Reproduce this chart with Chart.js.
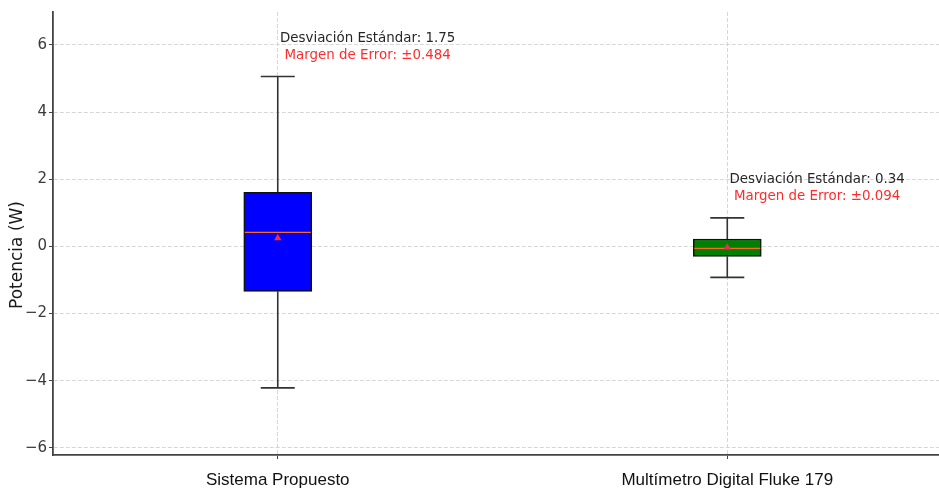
<!DOCTYPE html>
<html>
<head>
<meta charset="utf-8">
<script src="https://cdn.jsdelivr.net/npm/chart.js@4.4.1/dist/chart.umd.min.js"></script>
<style>
  html, body { margin: 0; padding: 0; background: #ffffff; overflow: hidden; }
  #wrap { width: 939px; height: 492px; position: relative; background: #ffffff; }
</style>
</head>
<body>
<div id="wrap"><canvas id="c" width="939" height="492"></canvas></div>
<script>
// Power readings summary per measuring device
const categories   = ['Sistema Propuesto', 'Multímetro Digital Fluke 179'];
const whiskerLow   = [-4.21, -0.92];
const quartile1    = [-1.34, -0.30];
const medians      = [0.42, -0.06];
const quartile3    = [1.61, 0.22];
const whiskerHigh  = [5.06, 0.85];
const means        = [0.25, -0.03];
const stdDevs      = ['1.75', '0.34'];
const errorMargins = ['0.484', '0.094'];
const boxColors    = ['#0000ff', '#008000'];
const yTicks       = [-6, -4, -2, 0, 2, 4, 6];

const BOX_PX = 68;
const CAP_PX = 34;

// Whiskers, caps, medians, annotations and the axis title
const boxPlotExtras = {
  id: 'boxPlotExtras',
  beforeDatasetsDraw(chart) {
    const { ctx, scales: { x, y } } = chart;
    ctx.save();
    ctx.strokeStyle = '#333333';
    ctx.lineWidth = 1.6;
    categories.forEach((_, i) => {
      const px = x.getPixelForValue(i + 1);
      const lo = y.getPixelForValue(whiskerLow[i]);
      const hi = y.getPixelForValue(whiskerHigh[i]);
      const q1 = y.getPixelForValue(quartile1[i]);
      const q3 = y.getPixelForValue(quartile3[i]);
      ctx.beginPath();
      ctx.moveTo(px, q3); ctx.lineTo(px, hi);
      ctx.moveTo(px, q1); ctx.lineTo(px, lo);
      ctx.moveTo(px - CAP_PX / 2, hi); ctx.lineTo(px + CAP_PX / 2, hi);
      ctx.moveTo(px - CAP_PX / 2, lo); ctx.lineTo(px + CAP_PX / 2, lo);
      ctx.stroke();
    });
    ctx.restore();
  },
  afterDatasetDraw(chart, args) {
    if (args.index !== 0) return;
    const { ctx, scales: { x, y } } = chart;
    ctx.save();
    ctx.strokeStyle = '#ff6a1a';
    ctx.lineWidth = 1.3;
    categories.forEach((_, i) => {
      const px = x.getPixelForValue(i + 1);
      const py = y.getPixelForValue(medians[i]);
      ctx.beginPath();
      ctx.moveTo(px - BOX_PX / 2 + 1, py);
      ctx.lineTo(px + BOX_PX / 2 - 1, py);
      ctx.stroke();
    });
    ctx.restore();
  },
  afterDraw(chart) {
    const { ctx, scales: { x, y } } = chart;
    ctx.save();
    ctx.textAlign = 'center';
    ctx.textBaseline = 'middle';
    ctx.font = '13.4px "DejaVu Sans"';
    categories.forEach((_, i) => {
      const px = x.getPixelForValue(i + 1 + 0.2);
      ctx.fillStyle = '#262626';
      ctx.fillText('Desviación Estándar: ' + stdDevs[i], px, y.getPixelForValue(whiskerHigh[i] + 1.13));
      ctx.fillStyle = '#ff2b2b';
      ctx.fillText('Margen de Error: ±' + errorMargins[i], px, y.getPixelForValue(whiskerHigh[i] + 0.63));
    });
    // y axis title
    ctx.translate(18, 255);
    ctx.rotate(-Math.PI / 2);
    ctx.fillStyle = '#1a1a1a';
    ctx.font = '17px "DejaVu Sans"';
    ctx.fillText('Potencia (W)', 0, 0);
    ctx.restore();
  }
};

new Chart(document.getElementById('c'), {
  type: 'bar',
  data: {
    datasets: [
      {
        type: 'bar',
        data: categories.map((_, i) => ({ x: i + 1, y: [quartile1[i], quartile3[i]] })),
        backgroundColor: boxColors,
        borderColor: '#111111',
        borderWidth: 1.5,
        borderSkipped: false,
        barThickness: BOX_PX,
        order: 2
      },
      {
        type: 'scatter',
        data: categories.map((_, i) => ({ x: i + 1, y: means[i] })),
        pointStyle: 'triangle',
        radius: 4.3,
        backgroundColor: '#f02a4c',
        borderColor: '#f02a4c',
        borderWidth: 0,
        order: 1
      }
    ]
  },
  options: {
    responsive: false,
    animation: false,
    devicePixelRatio: 1,
    layout: { autoPadding: false, padding: { top: 12, right: 0, bottom: 0, left: 0 } },
    plugins: { legend: { display: false }, tooltip: { enabled: false } },
    scales: {
      x: {
        type: 'linear',
        offset: false,
        min: 0.5,
        max: 2.471,
        afterBuildTicks: (s) => { s.ticks = categories.map((_, i) => ({ value: i + 1 })); },
        afterFit: (s) => { s.height = 37; s.paddingLeft = 0; s.paddingRight = 0; },
        ticks: {
          callback: (v) => categories[v - 1] || '',
          font: { family: 'Liberation Sans', size: 17 },
          color: '#111111',
          padding: 11,
          maxRotation: 0,
          autoSkip: false
        },
        grid: { offset: false, color: '#d2d2d2', lineWidth: 0.9, tickLength: 4, tickColor: '#444444', tickWidth: 1 },
        border: { display: true, color: '#444444', width: 1.8, dash: [4, 2] }
      },
      y: {
        type: 'linear',
        min: -6.21,
        max: 6.98,
        afterBuildTicks: (s) => { s.ticks = yTicks.map(v => ({ value: v })); },
        afterFit: (s) => { s.width = 53; s.paddingTop = 0; s.paddingBottom = 0; },
        ticks: {
          callback: (v) => (v < 0 ? '\u2212' + Math.abs(v) : String(v)),
          font: { family: 'DejaVu Sans', size: 15 },
          color: '#3a3a3a',
          padding: 2
        },
        grid: { color: '#d2d2d2', lineWidth: 0.9, tickLength: 4, tickColor: '#444444', tickWidth: 1 },
        border: { display: true, color: '#444444', width: 1.8, dash: [4, 2] }
      }
    }
  },
  plugins: [boxPlotExtras]
});
</script>
</body>
</html>
